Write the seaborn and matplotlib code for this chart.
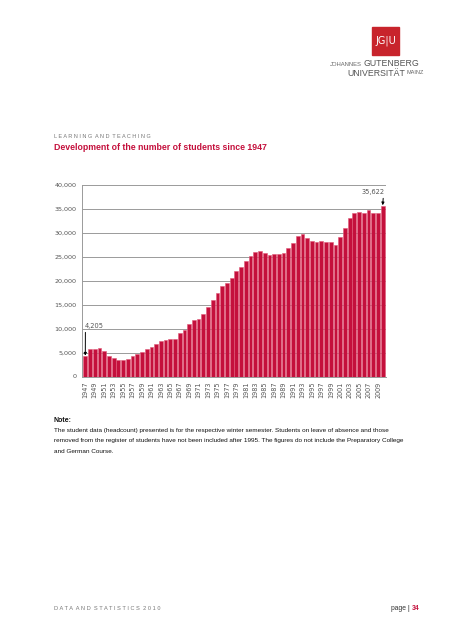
import numpy as np
import pandas as pd
import matplotlib
matplotlib.use("Agg")
import matplotlib.pyplot as plt
import seaborn as sns
from matplotlib.patches import Rectangle

# data (winter semester headcount)
years = list(range(1947, 2011))
students = [
    4205, 5750, 5760, 5900, 5300, 4200, 3850, 3450, 3400, 3650,
    4200, 4750, 5150, 5750, 6250, 6750, 7350, 7650, 7850, 7900,
    9000, 9750, 10950, 11800, 12100, 13100, 14450, 16000, 17400, 18950,
    19500, 20650, 22000, 22950, 24150, 25250, 26050, 26150, 25800, 25350,
    25500, 25650, 25850, 26900, 27850, 29450, 29750, 29000, 28300, 28100,
    28350, 28100, 28100, 27500, 29150, 31100, 33100, 34200, 34400, 34150,
    34750, 34150, 34050, 35622,
]
tick_years = list(range(1947, 2010, 2))
y_ticks = list(range(0, 40001, 5000))

crimson = "#c4103c"
grey_txt = "#555555"

W, H = 453, 640
fig = plt.figure(figsize=(W / 100, H / 100), dpi=100)
sns.set_style("white")
plt.rcParams['font.family'] = ['Liberation Sans', 'DejaVu Sans']


def fx(px):
    return px / W


def fy(py):
    return 1 - py / H


# chart
ax = fig.add_axes([fx(82), fy(376.5), fx(386) - fx(82), fy(185) - fy(376.5)])
df = pd.DataFrame({"year": [str(y) for y in years], "students": students})
sns.barplot(data=df, x="year", y="students", color=crimson, saturation=1,
            width=0.8, edgecolor="#e05a78", linewidth=0.4, ax=ax)

ax.set_ylim(0, 40000)
ax.set_xlim(-0.7, len(years) - 0.3)
ax.set_yticks(y_ticks)
ax.set_yticklabels([f"{v:,}" for v in y_ticks], fontsize=4.6,
                   family="DejaVu Sans", color=grey_txt)
ax.set_xticks([years.index(y) for y in tick_years])
ax.set_xticklabels([str(y) for y in tick_years], rotation=90, fontsize=4.7,
                   family="DejaVu Sans", color=grey_txt)
ax.set_xlabel("")
ax.set_ylabel("")
ax.yaxis.grid(True, color="#9a9a9a", linewidth=0.7)
ax.set_axisbelow(True)
for s in ["top", "right"]:
    ax.spines[s].set_visible(False)
for s in ["left", "bottom"]:
    ax.spines[s].set_color("#9a9a9a")
    ax.spines[s].set_linewidth(0.7)
ax.tick_params(axis="y", length=2, width=0.6, color="#9a9a9a", pad=2)
ax.tick_params(axis="x", length=2, width=0.6, color="#9a9a9a", pad=1.5)

# callouts for first and last value
ax.annotate(f"{students[0]:,}", xy=(0, students[0] + 150), xytext=(-0.1, 9900),
            fontsize=4.8, family="DejaVu Sans", color=grey_txt, ha="left", va="bottom",
            arrowprops=dict(arrowstyle="-|>", color="black", lw=0.7, mutation_scale=4,
                            shrinkA=0, shrinkB=0, relpos=(0.03, 0)))
ax.annotate(f"{students[-1]:,}", xy=(len(years) - 1, students[-1] + 150),
            xytext=(len(years) - 0.6, 37900),
            fontsize=4.8, family="DejaVu Sans", color=grey_txt, ha="right", va="bottom",
            annotation_clip=False,
            arrowprops=dict(arrowstyle="-|>", color="black", lw=0.7, mutation_scale=4,
                            shrinkA=0, shrinkB=0, relpos=(0.95, 0)))

# logo
fig.patches.append(Rectangle((fx(372), fy(55)), fx(27), fy(27) - fy(55),
                             transform=fig.transFigure, color="#c8242c"))
fig.text(fx(385.5), fy(41), "JG|U", color="white", fontsize=7, ha="center", va="center",
         family="DejaVu Sans")
fig.text(fx(362), fy(64.5), "JOHANNES", fontsize=4.2, color="#666666", ha="right", va="center")
fig.text(fx(364), fy(63.5), "GUTENBERG", fontsize=6.3, color="#555555", ha="left", va="center")
fig.text(fx(405), fy(73.5), "UNIVERSITÄT", fontsize=6.3, color="#555555", ha="right", va="center")
fig.text(fx(406.5), fy(73), "MAINZ", fontsize=4.0, color="#666666", ha="left", va="center")

# headings
fig.text(fx(54), fy(136.5), "L E A R N I N G  A N D  T E A C H I N G", fontsize=3.95,
         color="#777777", ha="left", va="center")
fig.text(fx(54), fy(148), "Development of the number of students since 1947", fontsize=6.3,
         color=crimson, fontweight="bold", ha="left", va="center")

# note
fig.text(fx(54), fy(420.5), "Note:", fontsize=5.0, fontweight="bold", color="#111111",
         ha="left", va="center")
note_lines = [
    "The student data (headcount) presented is for the respective winter semester. "
    "Students on leave of absence and those",
    "removed from the register of students have not been included after 1995. "
    "The figures do not include the Preparatory College",
    "and German Course.",
]
for i, line in enumerate(note_lines):
    fig.text(fx(54), fy(430.5 + i * 10.3), line, fontsize=4.55, color="#111111",
             ha="left", va="center")

# footer
fig.text(fx(54), fy(609), "D A T A  A N D  S T A T I S T I C S  2 0 1 0", fontsize=4.1,
         color="#777777", ha="left", va="center")
fig.text(fx(411.5), fy(609), "page | ", fontsize=4.9, color="#333333", ha="right", va="center")
fig.text(fx(411.5), fy(609), "34", fontsize=4.9, color=crimson, fontweight="bold",
         ha="left", va="center")

fig.savefig("out.png", dpi=100, facecolor="white")
